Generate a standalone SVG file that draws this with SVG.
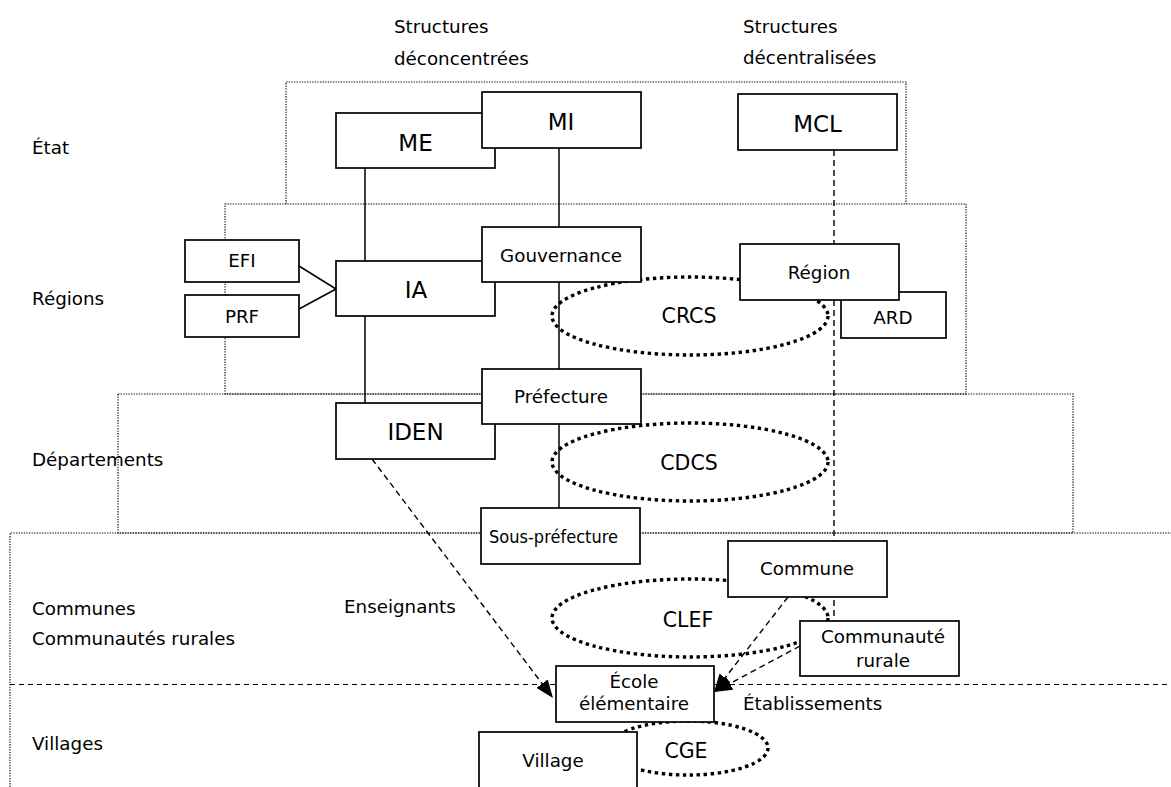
<svg xmlns="http://www.w3.org/2000/svg" width="1171" height="787" viewBox="0 0 1171 787">
<style>
text{font-family:"DejaVu Sans","Verdana",sans-serif;fill:#000}
.lbl{font-size:18.3px}
.big{font-size:23px;text-anchor:middle}
.mid{font-size:18.3px;text-anchor:middle}
.ell{font-size:20.5px;text-anchor:middle}
.zone{fill:none;stroke:#000;stroke-width:1.1;stroke-dasharray:1.3 1.3}
.box{fill:#fff;stroke:#000;stroke-width:1.7}
.ov{fill:none;stroke:#000;stroke-width:3.4;stroke-dasharray:3.4 3.6}
.solid{stroke:#000;stroke-width:1.5;fill:none}
.dash{stroke:#000;stroke-width:1.4;fill:none;stroke-dasharray:6 4}
.hdash{stroke:#000;stroke-width:1.1;fill:none;stroke-dasharray:5 4}
</style>
<defs>
<marker id="ah" viewBox="0 0 18 14" refX="18" refY="7" markerWidth="18" markerHeight="14" markerUnits="userSpaceOnUse" orient="auto">
<path d="M0,0 L18,7 L0,14 z" fill="#000"/>
</marker>
</defs>
<g id="zones">
<path class="zone" d="M286,204 V82 H906 V204"/>
<rect class="zone" x="225" y="204" width="741" height="190"/>
<rect class="zone" x="118" y="394" width="955" height="139"/>
<path class="zone" d="M10,787 V533 H1171"/>
<line class="hdash" x1="10" y1="684.5" x2="1171" y2="684.5"/>
</g>
<g id="labels">
<text class="lbl" x="394" y="33">Structures</text>
<text class="lbl" x="394" y="65">déconcentrées</text>
<text class="lbl" x="743" y="33">Structures</text>
<text class="lbl" x="743" y="64">décentralisées</text>
<text class="lbl" x="32" y="154">État</text>
<text class="lbl" x="32" y="305">Régions</text>
<text class="lbl" x="32" y="466">Départements</text>
<text class="lbl" x="32" y="615">Communes</text>
<text class="lbl" x="32" y="645">Communautés rurales</text>
<text class="lbl" x="32" y="750">Villages</text>
<text class="lbl" x="344" y="613">Enseignants</text>
<text class="lbl" x="743" y="710">Établissements</text>
</g>
<g id="n-crcs"><ellipse class="ov" cx="690" cy="316" rx="138" ry="39"/><text class="ell" x="689" y="323">CRCS</text></g>
<g id="n-cdcs"><ellipse class="ov" cx="690" cy="462" rx="138" ry="39"/><text class="ell" x="689" y="470">CDCS</text></g>
<g id="n-clef"><ellipse class="ov" cx="690" cy="618" rx="138" ry="39"/><text class="ell" x="688" y="627">CLEF</text></g>
<g id="n-cge"><ellipse class="ov" cx="688" cy="748" rx="80" ry="27"/><text class="ell" x="686" y="758">CGE</text></g>
<g id="connectors">
<line class="solid" x1="365" y1="168" x2="365" y2="261"/>
<line class="solid" x1="365" y1="316" x2="365" y2="403"/>
<line class="solid" x1="559" y1="148" x2="559" y2="227"/>
<line class="solid" x1="559" y1="282" x2="559" y2="369"/>
<line class="solid" x1="559" y1="424" x2="559" y2="508"/>
<line class="solid" x1="299" y1="266" x2="336" y2="289"/>
<line class="solid" x1="299" y1="309" x2="336" y2="289"/>
<line class="dash" x1="834" y1="150" x2="834" y2="621"/>
<line class="dash" x1="372" y1="459" x2="553" y2="698" marker-end="url(#ah)"/>
<line class="dash" x1="788" y1="597" x2="714" y2="692" marker-end="url(#ah)"/>
<line class="dash" x1="800" y1="646" x2="714" y2="692" marker-end="url(#ah)"/>
</g>
<g id="n-me"><rect class="box" x="336" y="113" width="159" height="55"/><text class="big" x="415.5" y="151">ME</text></g>
<g id="n-mi"><rect class="box" x="482" y="92" width="159" height="56"/><text class="big" x="561" y="130">MI</text></g>
<g id="n-mcl"><rect class="box" x="738" y="94" width="159" height="56"/><text class="big" x="817.5" y="132">MCL</text></g>
<g id="n-efi"><rect class="box" x="185" y="240" width="114" height="42"/><text class="mid" x="242" y="267">EFI</text></g>
<g id="n-prf"><rect class="box" x="185" y="295" width="114" height="42"/><text class="mid" x="242" y="323">PRF</text></g>
<g id="n-ia"><rect class="box" x="336" y="261" width="159" height="55"/><text class="big" x="416" y="298">IA</text></g>
<g id="n-gouvernance"><rect class="box" x="482" y="227" width="159" height="55"/><text class="mid" x="561" y="262">Gouvernance</text></g>
<g id="n-ard"><rect class="box" x="841" y="292" width="105" height="46"/><text class="mid" x="893" y="324">ARD</text></g>
<g id="n-region"><rect class="box" x="740" y="244" width="159" height="56"/><text class="mid" x="819" y="279">Région</text></g>
<g id="n-iden"><rect class="box" x="336" y="403" width="159" height="56"/><text class="big" x="415.5" y="440">IDEN</text></g>
<g id="n-prefecture"><rect class="box" x="482" y="369" width="159" height="55"/><text class="mid" x="561" y="403">Préfecture</text></g>
<g id="n-sousprefecture"><rect class="box" x="481" y="508" width="159" height="56"/><text class="mid" x="553.5" y="543" textLength="129" lengthAdjust="spacingAndGlyphs">Sous-préfecture</text></g>
<g id="n-commune"><rect class="box" x="728" y="541" width="159" height="56"/><text class="mid" x="807" y="575">Commune</text></g>
<g id="n-communaute"><rect class="box" x="800" y="621" width="159" height="55"/><text class="mid" x="883" y="643">Communauté</text><text class="mid" x="883" y="667">rurale</text></g>
<g id="n-ecole"><rect class="box" x="556" y="666" width="158" height="56"/><text class="mid" x="634" y="688">École</text><text class="mid" x="634" y="710">élémentaire</text></g>
<g id="n-village"><rect class="box" x="479" y="732" width="158" height="60"/><text class="mid" x="553" y="767">Village</text></g>
</svg>
